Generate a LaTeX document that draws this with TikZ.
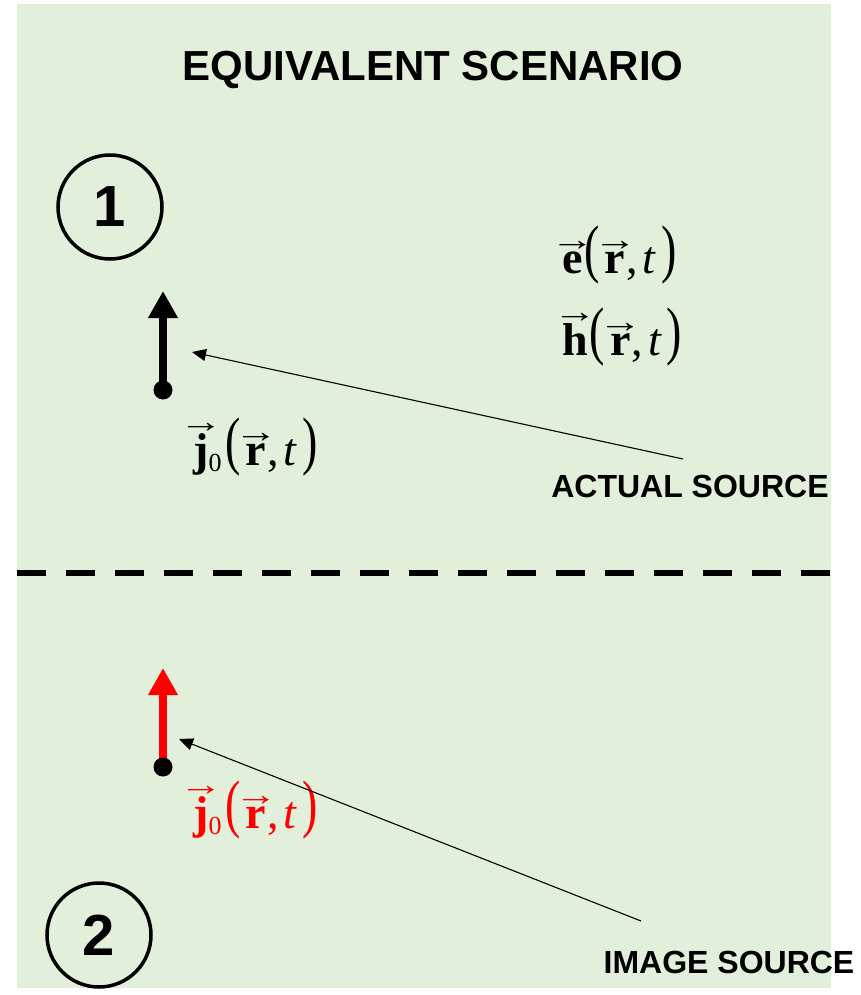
\documentclass[tikz,border=0pt]{standalone}
\usepackage{fix-cm}
\usepackage{fontspec}
\setmainfont{Liberation Serif}
\newfontfamily\labelfont{Liberation Sans}
\usetikzlibrary{arrows.meta}
\definecolor{bg}{RGB}{226,239,218}
\newcommand\vb[1]{\leavevmode\vbox{\offinterlineskip\halign{\hfil##\hfil\cr
  \makebox[0pt]{\raisebox{0pt}[10pt][0pt]{\scalebox{0.95}[0.7]{\normalfont →}}}\cr\noalign{\kern1pt}
  \bfseries #1\cr}}}
\newcommand\lpar{\raisebox{3pt}{\scalebox{1}[1.4]{(}}}
\newcommand\rpar{\raisebox{3pt}{\scalebox{1}[1.4]{)}}}
\newcommand\rt{\hspace{2pt}\lpar\hspace{5pt}\vb{r}\hspace{1pt},\hspace{5pt}\textit{t}\hspace{5pt}\rpar}
\newcommand\jz{\vb{j}\raisebox{-6pt}{\fontsize{26}{26}\selectfont 0}\hspace{2pt}}
\begin{document}
\begin{tikzpicture}[x=1pt,y=-1pt,
  lbl/.style={font=\labelfont\bfseries\fontsize{32}{32}\selectfont, inner sep=0, anchor=base},
  mth/.style={font=\fontsize{46}{46}\selectfont, inner sep=0, anchor=base west},
  region/.style={circle, draw, line width=3.5pt, minimum size=104pt, inner sep=0, font=\labelfont\bfseries\fontsize{58}{58}\selectfont},
  src/.style={line width=7.5pt, -{Triangle[length=27pt,width=28pt]}},
  dotn/.style={circle, fill=black, inner sep=0, minimum size=19pt},
  pointer/.style={line width=1.1pt, -{Triangle[length=14pt,width=12pt]}},
]
\useasboundingbox (0,0) rectangle (860,995);
\fill[bg] (17,4) rectangle (831,988);
% title
\node[lbl, font=\labelfont\bfseries\fontsize{42}{42}\selectfont] (title) at (433,81) {EQUIVALENT SCENARIO};
% regions
\node[region] (r1) at (110,207) {1};
\node[region] (r2) at (99,935) {2};
% fields
\node[mth] (e) at (562,273) {\vb{e}\rt};
\node[mth] (h) at (562,355) {\vb{h}\rt};
% actual source
\coordinate (tip1) at (163,291);
\draw[src] (163,390) -- (tip1);
\node[dotn] (dot1) at (163,390) {};
\node[mth] (j1) at (193,465) {\jz\rt};
\node[lbl] (actual) at (690,497) {ACTUAL SOURCE};
\coordinate (a1) at (683,459);
\coordinate (p1) at (192,352);
\draw[pointer] (a1) -- (p1);
% interface
\draw[line width=6pt, dash pattern=on 29pt off 20pt] (17,573) -- (830,573);
% image source
\coordinate (tip2) at (163,668);
\draw[src, red] (163,767) -- (tip2);
\node[dotn] (dot2) at (163,767) {};
\node[mth, text=red] (j2) at (193,828) {\jz\rt};
\node[lbl] (image) at (729,973) {IMAGE SOURCE};
\coordinate (a2) at (641,921);
\coordinate (p2) at (179,739);
\draw[pointer] (a2) -- (p2);
\end{tikzpicture}
\end{document}
